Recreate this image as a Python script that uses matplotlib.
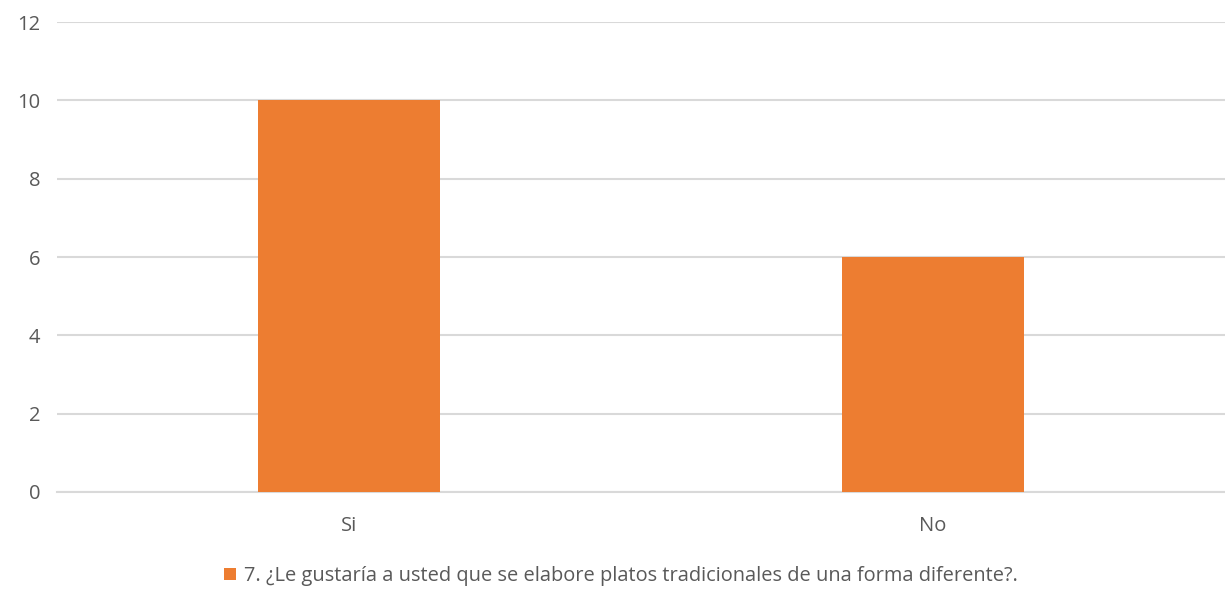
import matplotlib.pyplot as plt
from matplotlib.patches import Patch

plt.rcParams['font.family'] = ['Open Sans', 'DejaVu Sans']

categories = ['Si', 'No']
values = [10, 6]
series_name = '7. ¿Le gustaría a usted que se elabore platos tradicionales de una forma diferente?.'
bar_color = '#ED7D31'

fig = plt.figure(figsize=(12.25, 5.89), dpi=100)
ax = fig.add_axes([0.0465, 0.1647, 0.9535, 0.7979])

x = range(len(categories))
ax.bar(x, values, width=0.313, color=bar_color, zorder=3)

ax.set_xlim(-0.5, len(categories) - 0.5)
ax.set_ylim(0, 12)
ax.set_yticks(range(0, 13, 2))
ax.set_xticks(list(x))
ax.set_xticklabels(categories)
ax.grid(axis='y', color='#D9D9D9', linewidth=1.5, zorder=0)
ax.tick_params(axis='both', length=0, labelsize=14.5, labelcolor='#595959')
ax.tick_params(axis='y', pad=12)
ax.tick_params(axis='x', pad=17)
for s in ['top', 'right', 'left']:
    ax.spines[s].set_visible(False)
ax.spines['bottom'].set_color('#D9D9D9')
ax.spines['bottom'].set_linewidth(1.5)

handle = Patch(facecolor=bar_color, label=series_name)
fig.legend(handles=[handle], loc='center', bbox_to_anchor=(0.507, 0.022), frameon=False,
           fontsize=14.4, labelcolor='#595959', handlelength=0.6, handleheight=0.6,
           handletextpad=0.4)

fig.savefig('out.png', dpi=100)
